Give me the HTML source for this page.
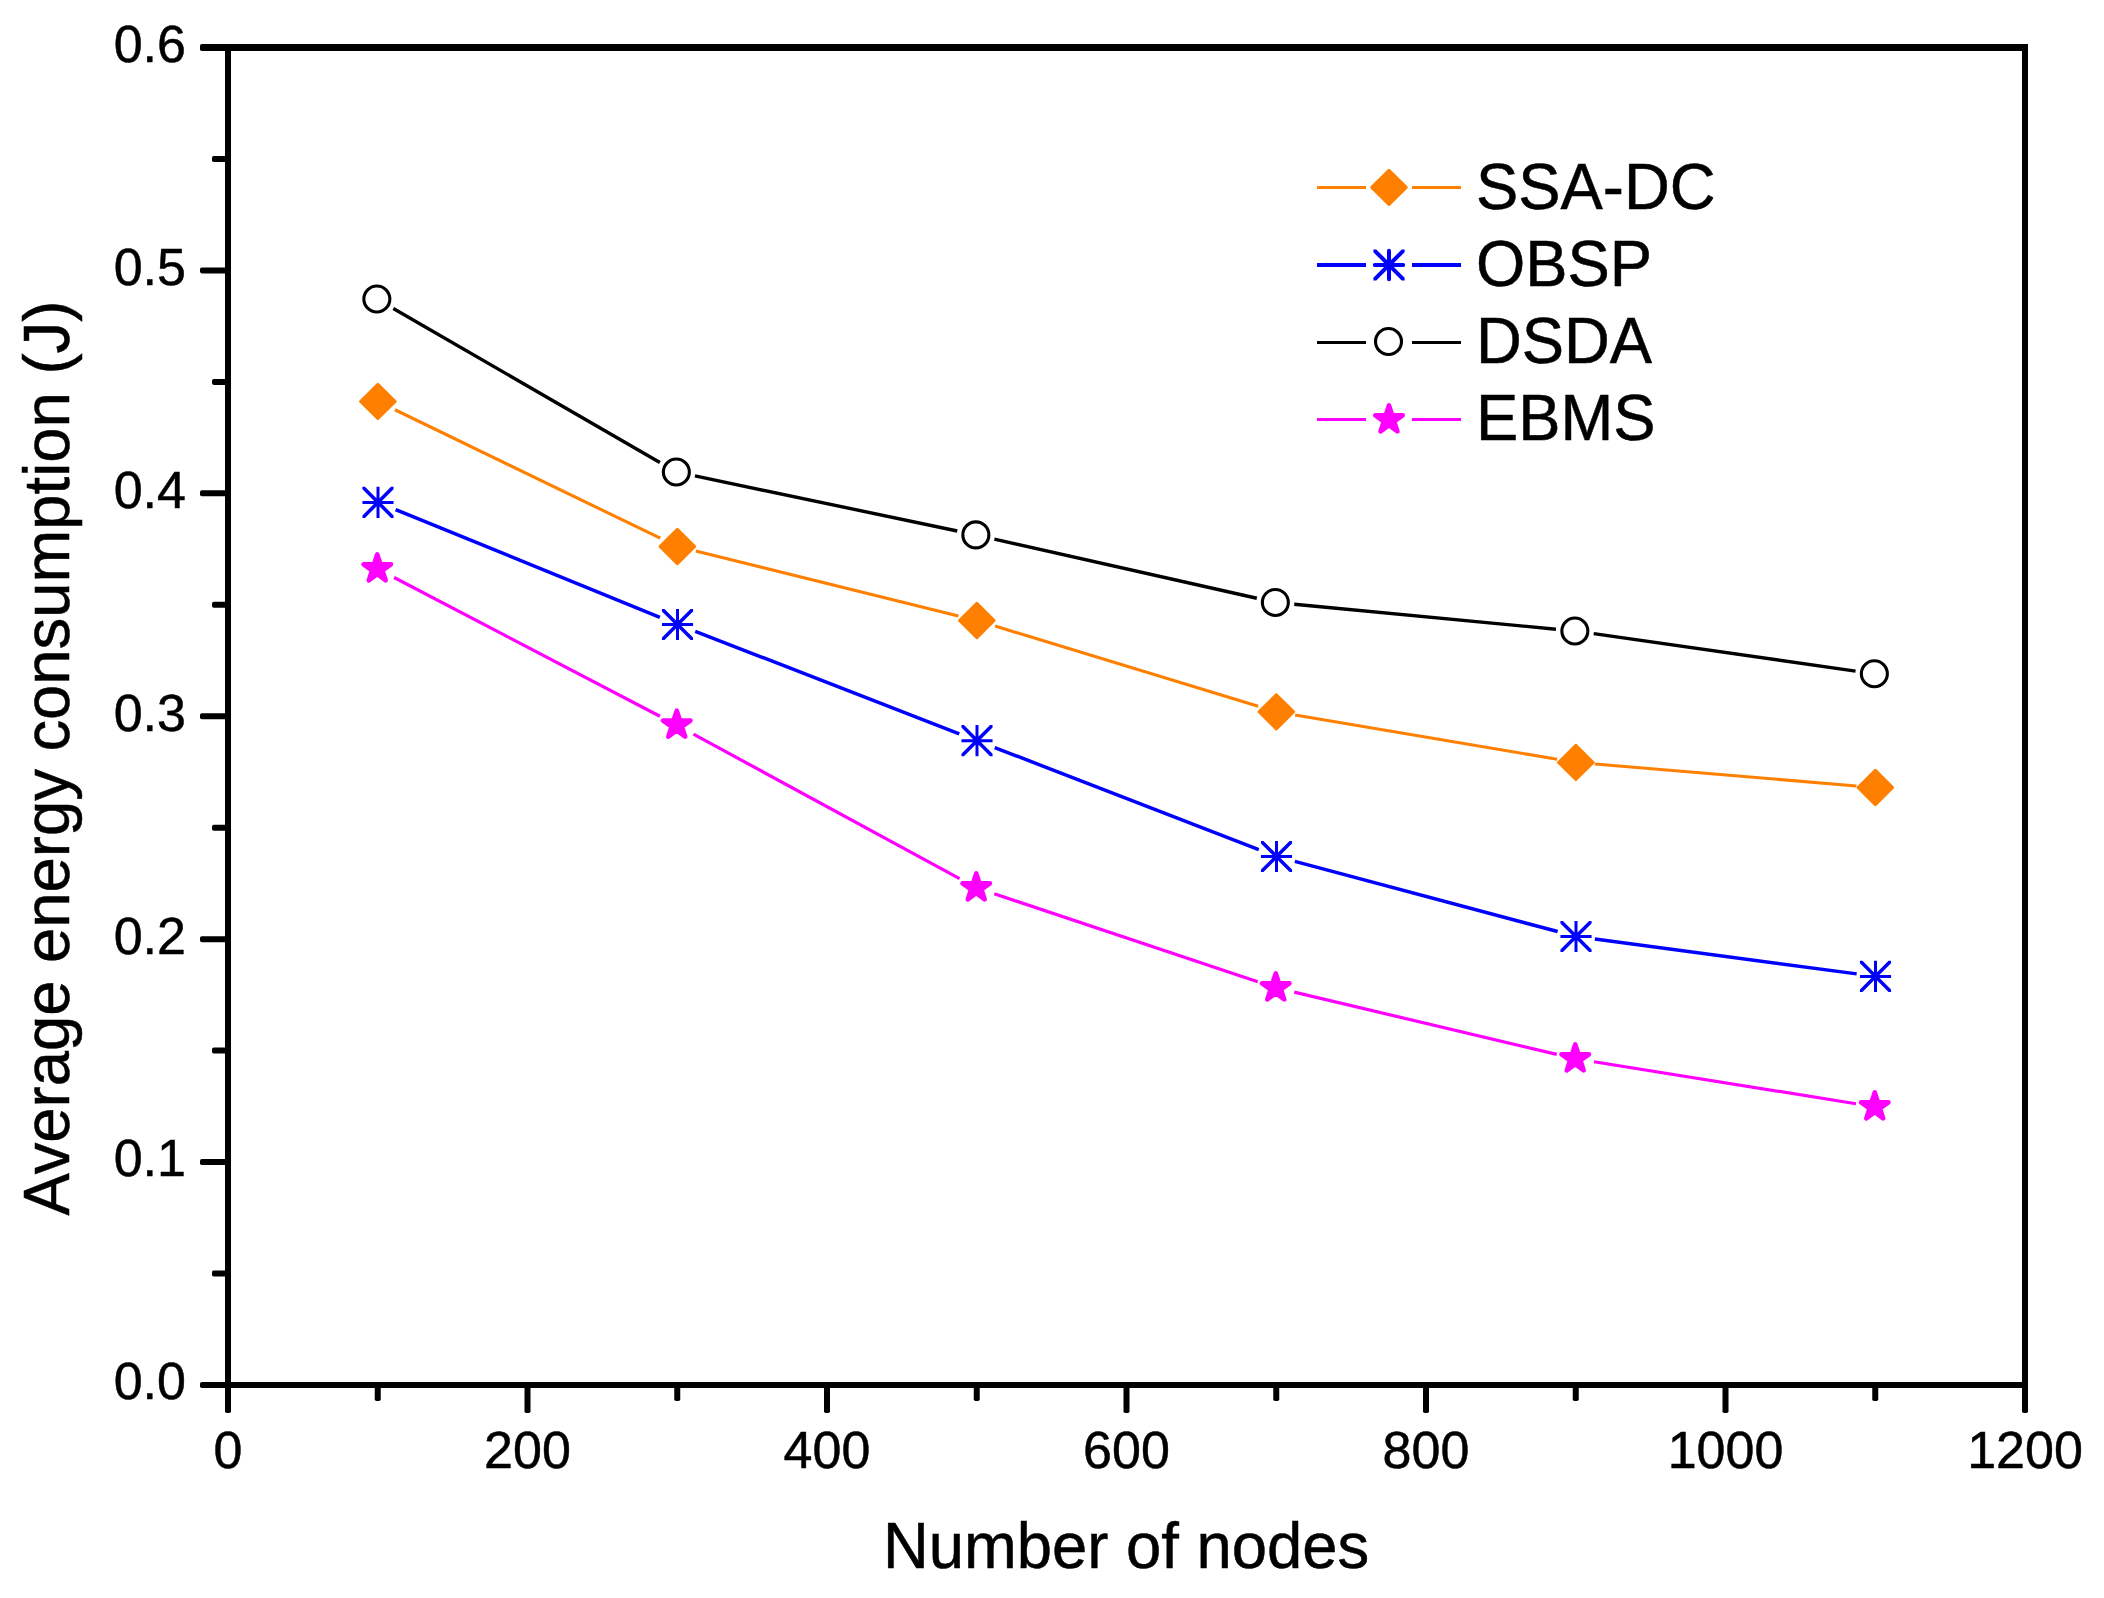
<!DOCTYPE html>
<html><head><meta charset="utf-8"><title>Average energy consumption</title>
<style>
html,body{margin:0;padding:0;background:#fff;}
body{width:2104px;height:1598px;overflow:hidden;}
svg{display:block;}
text{font-family:"Liberation Sans",sans-serif;fill:#000;stroke:#000;stroke-width:0.5px;}
.tk{font-size:52px;}
.ti{font-size:63.4px;}
</style></head><body>
<svg width="2104" height="1598" viewBox="0 0 2104 1598">
<rect x="0" y="0" width="2104" height="1598" fill="#fff"/>
<g stroke="#000" stroke-width="6" fill="none" stroke-linecap="butt">
<line x1="228.0" y1="44.5" x2="228.0" y2="1388.0"/>
<line x1="2025.0" y1="44.5" x2="2025.0" y2="1388.0"/>
<line x1="225.0" y1="47.5" x2="2028.0" y2="47.5" stroke-width="7"/>
<line x1="225.0" y1="1385.0" x2="2028.0" y2="1385.0"/>
</g><g fill="#000" stroke="none">
<rect x="200.00" y="1382.00" width="30" height="6" rx="1.8"/>
<rect x="212.00" y="1270.54" width="18" height="6" rx="1.8"/>
<rect x="200.00" y="1159.08" width="30" height="6" rx="1.8"/>
<rect x="212.00" y="1047.62" width="18" height="6" rx="1.8"/>
<rect x="200.00" y="936.17" width="30" height="6" rx="1.8"/>
<rect x="212.00" y="824.71" width="18" height="6" rx="1.8"/>
<rect x="200.00" y="713.25" width="30" height="6" rx="1.8"/>
<rect x="212.00" y="601.79" width="18" height="6" rx="1.8"/>
<rect x="200.00" y="490.33" width="30" height="6" rx="1.8"/>
<rect x="212.00" y="378.88" width="18" height="6" rx="1.8"/>
<rect x="200.00" y="267.42" width="30" height="6" rx="1.8"/>
<rect x="212.00" y="155.96" width="18" height="6" rx="1.8"/>
<rect x="200.00" y="44.00" width="30" height="7" rx="1.8"/>
<rect x="225.00" y="1383.00" width="6" height="30" rx="1.8"/>
<rect x="374.75" y="1383.00" width="6" height="18" rx="1.8"/>
<rect x="524.50" y="1383.00" width="6" height="30" rx="1.8"/>
<rect x="674.25" y="1383.00" width="6" height="18" rx="1.8"/>
<rect x="824.00" y="1383.00" width="6" height="30" rx="1.8"/>
<rect x="973.75" y="1383.00" width="6" height="18" rx="1.8"/>
<rect x="1123.50" y="1383.00" width="6" height="30" rx="1.8"/>
<rect x="1273.25" y="1383.00" width="6" height="18" rx="1.8"/>
<rect x="1423.00" y="1383.00" width="6" height="30" rx="1.8"/>
<rect x="1572.75" y="1383.00" width="6" height="18" rx="1.8"/>
<rect x="1722.50" y="1383.00" width="6" height="30" rx="1.8"/>
<rect x="1872.25" y="1383.00" width="6" height="18" rx="1.8"/>
<rect x="2022.00" y="1383.00" width="6" height="30" rx="1.8"/>
</g>
<text class="tk" x="186" y="1399.3" text-anchor="end">0.0</text>
<text class="tk" x="186" y="1176.4" text-anchor="end">0.1</text>
<text class="tk" x="186" y="953.5" text-anchor="end">0.2</text>
<text class="tk" x="186" y="730.5" text-anchor="end">0.3</text>
<text class="tk" x="186" y="507.6" text-anchor="end">0.4</text>
<text class="tk" x="186" y="284.7" text-anchor="end">0.5</text>
<text class="tk" x="186" y="61.8" text-anchor="end">0.6</text>
<text class="tk" x="228.0" y="1468.3" text-anchor="middle">0</text>
<text class="tk" x="527.5" y="1468.3" text-anchor="middle">200</text>
<text class="tk" x="827.0" y="1468.3" text-anchor="middle">400</text>
<text class="tk" x="1126.5" y="1468.3" text-anchor="middle">600</text>
<text class="tk" x="1426.0" y="1468.3" text-anchor="middle">800</text>
<text class="tk" x="1725.5" y="1468.3" text-anchor="middle">1000</text>
<text class="tk" x="2025.0" y="1468.3" text-anchor="middle">1200</text>
<text class="ti" transform="translate(1126,1567.6) scale(1,1.02)" text-anchor="middle">Number of nodes</text>
<text class="ti" transform="translate(69,758.1) rotate(-90) scale(1,1.02)" text-anchor="middle">Average energy consumption (J)</text>
<path d="M393.30 308.50L659.90 462.50M694.94 475.91L957.26 530.99M994.38 539.08L1256.82 598.27M1294.26 604.25L1555.94 629.20M1593.66 633.68L1855.54 671.07" fill="none" stroke="#000" stroke-width="3.4"/>
<circle cx="376.85" cy="299.00" r="13.0" fill="#fff" stroke="#000" stroke-width="3.1"/>
<circle cx="676.35" cy="472.00" r="13.0" fill="#fff" stroke="#000" stroke-width="3.1"/>
<circle cx="975.85" cy="534.90" r="13.0" fill="#fff" stroke="#000" stroke-width="3.1"/>
<circle cx="1275.35" cy="602.45" r="13.0" fill="#fff" stroke="#000" stroke-width="3.1"/>
<circle cx="1574.85" cy="631.00" r="13.0" fill="#fff" stroke="#000" stroke-width="3.1"/>
<circle cx="1874.35" cy="673.75" r="13.0" fill="#fff" stroke="#000" stroke-width="3.1"/>
<path d="M394.95 409.73L660.25 538.22M695.80 551.06L958.40 615.94M995.02 626.04L1258.18 706.26M1295.08 714.97L1557.12 759.28M1594.78 764.03L1856.42 785.92" fill="none" stroke="#FF8000" stroke-width="3.1"/>
<path d="M377.85 384.35L395.15 401.45L377.85 418.55L360.55 401.45Z" fill="#FF8000" stroke="#FF8000" stroke-width="3" stroke-linejoin="round"/>
<path d="M677.35 529.40L694.65 546.50L677.35 563.60L660.05 546.50Z" fill="#FF8000" stroke="#FF8000" stroke-width="3" stroke-linejoin="round"/>
<path d="M976.85 603.40L994.15 620.50L976.85 637.60L959.55 620.50Z" fill="#FF8000" stroke="#FF8000" stroke-width="3" stroke-linejoin="round"/>
<path d="M1276.35 694.70L1293.65 711.80L1276.35 728.90L1259.05 711.80Z" fill="#FF8000" stroke="#FF8000" stroke-width="3" stroke-linejoin="round"/>
<path d="M1575.85 745.35L1593.15 762.45L1575.85 779.55L1558.55 762.45Z" fill="#FF8000" stroke="#FF8000" stroke-width="3" stroke-linejoin="round"/>
<path d="M1875.35 770.40L1892.65 787.50L1875.35 804.60L1858.05 787.50Z" fill="#FF8000" stroke="#FF8000" stroke-width="3" stroke-linejoin="round"/>
<path d="M395.60 509.57L659.90 617.28M695.21 631.32L959.29 733.79M994.72 747.51L1258.78 849.63M1294.86 861.38L1557.64 931.55M1594.83 938.96L1856.67 973.89" fill="none" stroke="#0000FF" stroke-width="3.5"/>
<path d="M362.45 486.85L364.95 486.85L393.55 515.45L393.55 517.95L391.05 517.95L362.45 489.35ZM393.55 486.85L393.55 489.35L364.95 517.95L362.45 517.95L362.45 515.45L391.05 486.85ZM362.45 500.90L393.55 500.90L393.55 503.90L362.45 503.90ZM376.50 486.85L379.50 486.85L379.50 517.95L376.50 517.95Z" fill="#0000FF" fill-rule="nonzero"/>
<path d="M661.95 608.90L664.45 608.90L693.05 637.50L693.05 640.00L690.55 640.00L661.95 611.40ZM693.05 608.90L693.05 611.40L664.45 640.00L661.95 640.00L661.95 637.50L690.55 608.90ZM661.95 622.95L693.05 622.95L693.05 625.95L661.95 625.95ZM676.00 608.90L679.00 608.90L679.00 640.00L676.00 640.00Z" fill="#0000FF" fill-rule="nonzero"/>
<path d="M961.45 725.11L963.95 725.11L992.55 753.71L992.55 756.21L990.05 756.21L961.45 727.61ZM992.55 725.11L992.55 727.61L963.95 756.21L961.45 756.21L961.45 753.71L990.05 725.11ZM961.45 739.16L992.55 739.16L992.55 742.16L961.45 742.16ZM975.50 725.11L978.50 725.11L978.50 756.21L975.50 756.21Z" fill="#0000FF" fill-rule="nonzero"/>
<path d="M1260.95 840.93L1263.45 840.93L1292.05 869.53L1292.05 872.03L1289.55 872.03L1260.95 843.43ZM1292.05 840.93L1292.05 843.43L1263.45 872.03L1260.95 872.03L1260.95 869.53L1289.55 840.93ZM1260.95 854.98L1292.05 854.98L1292.05 857.98L1260.95 857.98ZM1275.00 840.93L1278.00 840.93L1278.00 872.03L1275.00 872.03Z" fill="#0000FF" fill-rule="nonzero"/>
<path d="M1560.45 920.90L1562.95 920.90L1591.55 949.50L1591.55 952.00L1589.05 952.00L1560.45 923.40ZM1591.55 920.90L1591.55 923.40L1562.95 952.00L1560.45 952.00L1560.45 949.50L1589.05 920.90ZM1560.45 934.95L1591.55 934.95L1591.55 937.95L1560.45 937.95ZM1574.50 920.90L1577.50 920.90L1577.50 952.00L1574.50 952.00Z" fill="#0000FF" fill-rule="nonzero"/>
<path d="M1859.95 960.85L1862.45 960.85L1891.05 989.45L1891.05 991.95L1888.55 991.95L1859.95 963.35ZM1891.05 960.85L1891.05 963.35L1862.45 991.95L1859.95 991.95L1859.95 989.45L1888.55 960.85ZM1859.95 974.90L1891.05 974.90L1891.05 977.90L1859.95 977.90ZM1874.00 960.85L1877.00 960.85L1877.00 991.95L1874.00 991.95Z" fill="#0000FF" fill-rule="nonzero"/>
<path d="M394.10 577.53L659.90 716.21M693.44 734.07L959.56 878.69M994.27 893.78L1257.73 981.74M1294.24 992.14L1556.76 1054.37M1594.01 1061.76L1855.99 1103.74" fill="none" stroke="#FF00FF" stroke-width="3.2"/>
<polygon points="377.25,554.34 380.48,564.29 390.95,564.29 382.48,570.44 385.71,580.39 377.25,574.24 368.79,580.39 372.02,570.44 363.55,564.29 374.02,564.29" fill="#FF00FF" stroke="#FF00FF" stroke-width="4.6" stroke-linejoin="round"/>
<polygon points="676.75,710.60 679.98,720.55 690.45,720.55 681.98,726.70 685.21,736.65 676.75,730.50 668.29,736.65 671.52,726.70 663.05,720.55 673.52,720.55" fill="#FF00FF" stroke="#FF00FF" stroke-width="4.6" stroke-linejoin="round"/>
<polygon points="976.25,873.36 979.48,883.31 989.95,883.31 981.48,889.46 984.71,899.41 976.25,893.26 967.79,899.41 971.02,889.46 962.55,883.31 973.02,883.31" fill="#FF00FF" stroke="#FF00FF" stroke-width="4.6" stroke-linejoin="round"/>
<polygon points="1275.75,973.36 1278.98,983.31 1289.45,983.31 1280.98,989.46 1284.21,999.41 1275.75,993.26 1267.29,999.41 1270.52,989.46 1262.05,983.31 1272.52,983.31" fill="#FF00FF" stroke="#FF00FF" stroke-width="4.6" stroke-linejoin="round"/>
<polygon points="1575.25,1044.35 1578.48,1054.30 1588.95,1054.30 1580.48,1060.45 1583.71,1070.40 1575.25,1064.25 1566.79,1070.40 1570.02,1060.45 1561.55,1054.30 1572.02,1054.30" fill="#FF00FF" stroke="#FF00FF" stroke-width="4.6" stroke-linejoin="round"/>
<polygon points="1874.75,1092.35 1877.98,1102.30 1888.45,1102.30 1879.98,1108.45 1883.21,1118.40 1874.75,1112.25 1866.29,1118.40 1869.52,1108.45 1861.05,1102.30 1871.52,1102.30" fill="#FF00FF" stroke="#FF00FF" stroke-width="4.6" stroke-linejoin="round"/>
<path d="M1317 187.4H1366M1412 187.4H1461" stroke="#FF8000" stroke-width="3" fill="none"/>
<path d="M1389.00 170.30L1406.30 187.40L1389.00 204.50L1371.70 187.40Z" fill="#FF8000" stroke="#FF8000" stroke-width="3" stroke-linejoin="round"/>
<text class="ti" transform="translate(1476,208.7) scale(1,1.028)">SSA-DC</text>
<path d="M1317 265.0H1366M1412 265.0H1461" stroke="#0000FF" stroke-width="4" fill="none"/>
<path d="M1373.40 249.40L1376.30 249.40L1404.60 277.70L1404.60 280.60L1401.70 280.60L1373.40 252.30ZM1404.60 249.40L1404.60 252.30L1376.30 280.60L1373.40 280.60L1373.40 277.70L1401.70 249.40Z" fill="#0000FF"/><path d="M1374.80 265.00H1403.20M1389.00 250.80V279.20" stroke="#0000FF" stroke-width="4.0" stroke-linecap="round" fill="none"/>
<text class="ti" transform="translate(1476,285.8) scale(1,1.028)">OBSP</text>
<path d="M1317 342.4H1366M1412 342.4H1461" stroke="#000" stroke-width="3" fill="none"/>
<circle cx="1388.50" cy="341.50" r="13.0" fill="#fff" stroke="#000" stroke-width="3.1"/>
<text class="ti" transform="translate(1476,362.7) scale(1,1.028)">DSDA</text>
<path d="M1317 419.5H1366M1412 419.5H1461" stroke="#FF00FF" stroke-width="3" fill="none"/>
<polygon points="1389.00,405.35 1392.23,415.30 1402.70,415.30 1394.23,421.45 1397.46,431.40 1389.00,425.25 1380.54,431.40 1383.77,421.45 1375.30,415.30 1385.77,415.30" fill="#FF00FF" stroke="#FF00FF" stroke-width="4.6" stroke-linejoin="round"/>
<text class="ti" transform="translate(1476,440.3) scale(1,1.028)">EBMS</text>
</svg></body></html>
